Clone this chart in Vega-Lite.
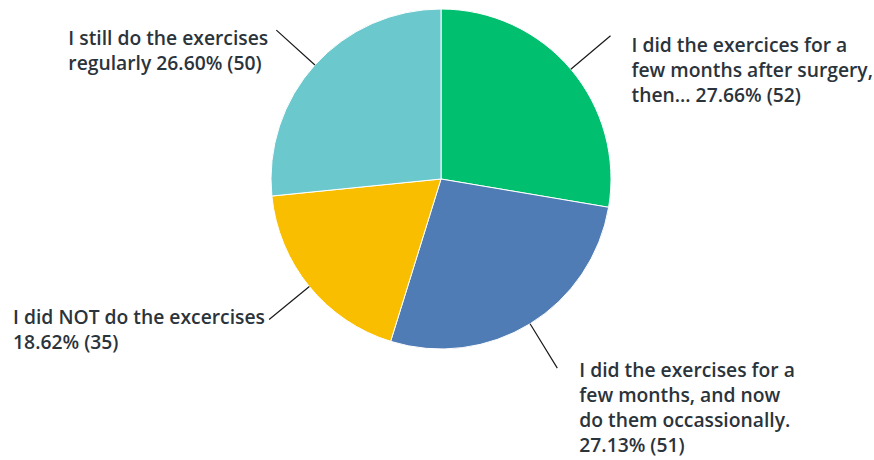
{
  "$schema": "https://vega.github.io/schema/vega-lite/v6.json",
  "width": 866,
  "height": 358,
  "autosize": {"type": "none"},
  "padding": {"left": 8, "top": 0, "right": 0, "bottom": 102},
  "background": "white",
  "config": {"view": {"stroke": null}},
  "data": {
    "values": [
      {"answer": "I did the exercices for a few months after surgery, then...", "label": "I did the exercices for a\nfew months after surgery,\nthen... 27.66% (52)", "count": 52, "order": 1},
      {"answer": "I did the exercises for a few months, and now do them occassionally.", "label": "I did the exercises for a\nfew months, and now\ndo them occassionally.\n27.13% (51)", "count": 51, "order": 2},
      {"answer": "I did NOT do the excercises", "label": "I did NOT do the excercises\n18.62% (35)", "count": 35, "order": 3},
      {"answer": "I still do the exercises regularly", "label": "I still do the exercises\nregularly 26.60% (50)", "count": 50, "order": 4}
    ]
  },
  "transform": [
    {"stack": "count", "groupby": [], "sort": [{"field": "order", "order": "ascending"}], "as": ["v0", "v1"]},
    {"calculate": "(datum.v0 + datum.v1) / 2", "as": "mid"}
  ],
  "layer": [
    {
      "mark": {"type": "arc", "radius": 170, "stroke": "white", "strokeWidth": 1},
      "encoding": {
        "theta": {"field": "v0", "type": "quantitative", "scale": {"domain": [0, 188], "nice": false, "zero": true}},
        "theta2": {"field": "v1"},
        "color": {
          "field": "order",
          "type": "nominal",
          "scale": {"domain": [1, 2, 3, 4], "range": ["#00BF6F", "#507CB6", "#F9BE00", "#6BC8CD"]},
          "legend": null
        }
      }
    },
    {
      "mark": {"type": "arc", "radius": 222, "radius2": 170, "filled": false, "stroke": "#1a1a1a", "strokeWidth": 1.2},
      "encoding": {
        "theta": {"field": "mid", "type": "quantitative"},
        "theta2": {"field": "mid"}
      }
    },
    {
      "transform": [{"filter": "datum.order === 1"}],
      "mark": {"type": "text", "radius": 222, "align": "left", "baseline": "alphabetic", "dx": 21, "dy": 16, "font": "Open Sans", "fontWeight": 600, "fontSize": 19.3, "lineHeight": 25, "lineBreak": "\n", "color": "#2b333b"},
      "encoding": {"theta": {"field": "mid", "type": "quantitative"}, "text": {"field": "label"}}
    },
    {
      "transform": [{"filter": "datum.order === 2"}],
      "mark": {"type": "text", "radius": 222, "align": "left", "baseline": "alphabetic", "dx": 22, "dy": 9, "font": "Open Sans", "fontWeight": 600, "fontSize": 19.3, "lineHeight": 25, "lineBreak": "\n", "color": "#2b333b"},
      "encoding": {"theta": {"field": "mid", "type": "quantitative"}, "text": {"field": "label"}}
    },
    {
      "transform": [{"filter": "datum.order === 3"}],
      "mark": {"type": "text", "radius": 222, "align": "left", "baseline": "alphabetic", "dx": -256, "dy": 5, "font": "Open Sans", "fontWeight": 600, "fontSize": 19.3, "lineHeight": 25, "lineBreak": "\n", "color": "#2b333b"},
      "encoding": {"theta": {"field": "mid", "type": "quantitative"}, "text": {"field": "label"}}
    },
    {
      "transform": [{"filter": "datum.order === 4"}],
      "mark": {"type": "text", "radius": 222, "align": "left", "baseline": "alphabetic", "dx": -208, "dy": 15, "font": "Open Sans", "fontWeight": 600, "fontSize": 19.3, "lineHeight": 25, "lineBreak": "\n", "color": "#2b333b"},
      "encoding": {"theta": {"field": "mid", "type": "quantitative"}, "text": {"field": "label"}}
    }
  ]
}
